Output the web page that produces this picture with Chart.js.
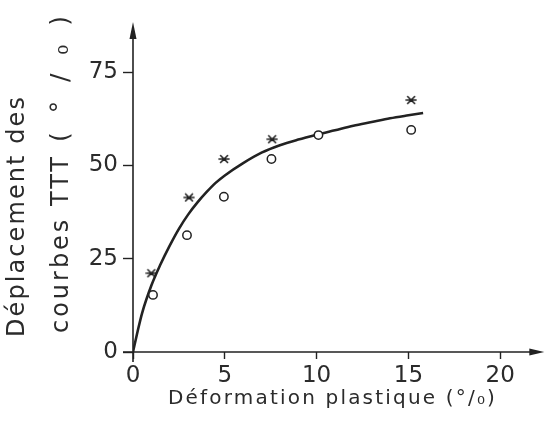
<!DOCTYPE html>
<html>
<head>
<meta charset="utf-8">
<script src="https://cdn.jsdelivr.net/npm/chart.js@4/dist/chart.umd.min.js"></script>
<style>
  html, body { margin: 0; padding: 0; background: #fff; }
  #wrap { width: 550px; height: 422px; }
</style>
</head>
<body>
<div id="wrap"><canvas id="c" width="550" height="422"></canvas></div>
<script>
// plastic strain (%) vs TTT curve shift (%)
const starX = [1.0, 3.05, 4.96, 7.58, 15.15];
const starY = [21.1, 41.4, 51.7, 57.0, 67.5];
const circX = [1.09, 2.94, 4.95, 7.54, 10.1, 15.15];
const circY = [15.3, 31.3, 41.6, 51.7, 58.1, 59.5];
const curveX = [0, 0.25, 0.5, 1, 1.5, 2, 2.5, 3, 3.5, 4, 4.5, 5, 6, 7, 8, 9, 10, 11, 12, 13, 14, 15, 15.8];
const curveY = [0, 5.5, 10.5, 17.8, 23.5, 28.5, 33, 36.8, 40, 42.8, 45.3, 47.3, 50.6, 53.4, 55.4, 56.9, 58.2, 59.4, 60.6, 61.6, 62.6, 63.4, 64.0];
const xTicks = [0, 5, 10, 15, 20];
const yTicks = [0, 25, 50, 75];

const xTitle = "Déformation plastique (°/₀)";
const yTitle1 = "Déplacement des";
const yTitle2 = "courbes TTT";
const yUnit = "(°/₀)";

const INK = "#222";
const TEXT = "#2b2b2b";
const pts = (xs, ys) => xs.map((x, i) => ({ x, y: ys[i] }));

// asterisk marker: horizontal bar crossed by an X
function starMarker() {
  const cv = document.createElement("canvas");
  cv.width = 12; cv.height = 10;
  const g = cv.getContext("2d");
  g.strokeStyle = INK; g.lineWidth = 1.6; g.lineCap = "round";
  g.beginPath();
  g.moveTo(1, 5); g.lineTo(11, 5);
  g.moveTo(2.5, 1.5); g.lineTo(9.5, 8.5);
  g.moveTo(9.5, 1.5); g.lineTo(2.5, 8.5);
  g.stroke();
  return cv;
}

// spread a string so it runs over `len` pixels
function fillSpread(ctx, text, x, y, len) {
  ctx.letterSpacing = "0px";
  const w = ctx.measureText(text).width;
  const gap = (len - w) / Math.max(1, text.length - 1);
  ctx.letterSpacing = gap.toFixed(2) + "px";
  ctx.fillText(text, x, y);
}

// axis lines with arrowheads, plus the axis titles
const arrowAxes = {
  id: "arrowAxes",
  afterDatasetsDraw(chart) {
    const { ctx, chartArea: a, scales } = chart;
    const x0 = scales.x.getPixelForValue(0);
    const y0 = scales.y.getPixelForValue(0);
    ctx.save();
    ctx.strokeStyle = INK; ctx.fillStyle = INK; ctx.lineWidth = 1.6;
    ctx.beginPath();
    ctx.moveTo(x0, y0 + 10); ctx.lineTo(x0, a.top + 10);
    ctx.moveTo(x0 - 10, y0); ctx.lineTo(a.right - 10, y0);
    ctx.stroke();
    ctx.beginPath();
    ctx.moveTo(x0, a.top); ctx.lineTo(x0 - 3.5, a.top + 17); ctx.lineTo(x0 + 3.5, a.top + 17); ctx.closePath();
    ctx.fill();
    ctx.beginPath();
    ctx.moveTo(a.right, y0); ctx.lineTo(a.right - 15, y0 - 3.5); ctx.lineTo(a.right - 15, y0 + 3.5); ctx.closePath();
    ctx.fill();
    ctx.restore();
  },
  afterDraw(chart) {
    const { ctx } = chart;
    ctx.save();
    ctx.fillStyle = TEXT;
    ctx.textBaseline = "alphabetic";
    ctx.textAlign = "left";
    ctx.font = "20px 'DejaVu Sans'";
    fillSpread(ctx, xTitle, 168, 404, 327);
    ctx.font = "24px 'DejaVu Sans'";
    ctx.rotate(-Math.PI / 2);
    fillSpread(ctx, yTitle1, -337, 24, 240);
    fillSpread(ctx, yTitle2, -333, 68, 176);
    ctx.font = "25px 'DejaVu Sans'";
    fillSpread(ctx, yUnit, -142, 68, 126);
    ctx.restore();
  }
};

new Chart(document.getElementById("c"), {
  type: "scatter",
  data: {
    datasets: [
      {
        data: pts(circX, circY),
        pointStyle: "circle",
        pointRadius: 4.2,
        pointBorderWidth: 1.5,
        pointBorderColor: INK,
        pointBackgroundColor: "#fff",
        order: 0,
      },
      {
        data: pts(starX, starY),
        pointStyle: starMarker(),
        order: 1,
      },
      {
        data: pts(curveX, curveY),
        showLine: true,
        borderColor: INK,
        borderWidth: 2.6,
        pointRadius: 0,
        cubicInterpolationMode: "monotone",
        order: 2,
      },
    ],
  },
  options: {
    responsive: false,
    animation: false,
    layout: { padding: { top: 22, right: 0, left: 0, bottom: 0 } },
    plugins: { legend: { display: false }, tooltip: { enabled: false } },
    scales: {
      x: {
        type: "linear",
        min: 0, max: 22.4,
        afterFit: (s) => { s.height = 70; },
        afterBuildTicks: (s) => { s.ticks = xTicks.map((v) => ({ value: v })); },
        border: { display: false },
        grid: { drawOnChartArea: false, tickLength: 7, tickWidth: 1.4, tickColor: INK },
        ticks: { color: TEXT, padding: 3, font: { family: "'DejaVu Sans'", size: 23 } },
      },
      y: {
        type: "linear",
        min: 0, max: 88.4,
        afterFit: (s) => { s.width = 133; },
        afterBuildTicks: (s) => { s.ticks = yTicks.map((v) => ({ value: v })); },
        border: { display: false },
        grid: { drawOnChartArea: false, tickLength: 10, tickWidth: 1.4, tickColor: INK },
        ticks: { color: TEXT, padding: 5, font: { family: "'DejaVu Sans'", size: 23 } },
      },
    },
  },
  plugins: [arrowAxes],
});
</script>
</body>
</html>
